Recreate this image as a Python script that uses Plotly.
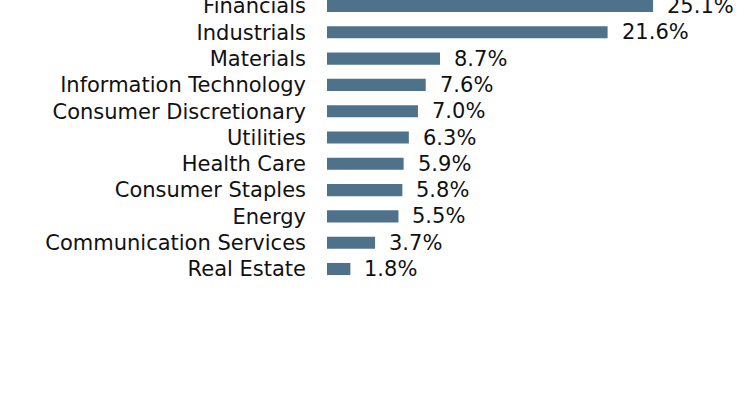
import plotly.graph_objects as go

sectors = ["Financials", "Industrials", "Materials", "Information Technology",
           "Consumer Discretionary", "Utilities", "Health Care", "Consumer Staples",
           "Energy", "Communication Services", "Real Estate"]
weights = [25.1, 21.6, 8.7, 7.6, 7.0, 6.3, 5.9, 5.8, 5.5, 3.7, 1.8]
labels = [f"{v:.1f}%" for v in weights]

FONT = "DejaVu Sans"
BAR = "#4f728b"

fig = go.Figure()
fig.add_trace(go.Bar(
    x=weights, y=sectors, orientation="h",
    marker=dict(color=BAR, line=dict(width=0)),
    width=0.46, hoverinfo="skip",
))

for s, v, t in zip(sectors, weights, labels):
    fig.add_annotation(x=v, y=s, text=t, showarrow=False, xanchor="left",
                       yanchor="middle", xshift=12,
                       font=dict(family=FONT, size=21, color="#111111"))

fig.update_layout(
    width=744, height=408,
    margin=dict(l=327, r=0, t=0, b=0, autoexpand=False),
    paper_bgcolor="white", plot_bgcolor="white",
    showlegend=False,
    xaxis=dict(range=[0, 32.1], visible=False, fixedrange=True),
    yaxis=dict(type="category", categoryorder="array", categoryarray=sectors,
               range=[15.285, -0.228], showgrid=False, zeroline=False,
               showline=False, ticks="", ticklabelstandoff=20,
               tickfont=dict(family=FONT, size=21, color="#111111")),
)

fig.write_html("out.html")
